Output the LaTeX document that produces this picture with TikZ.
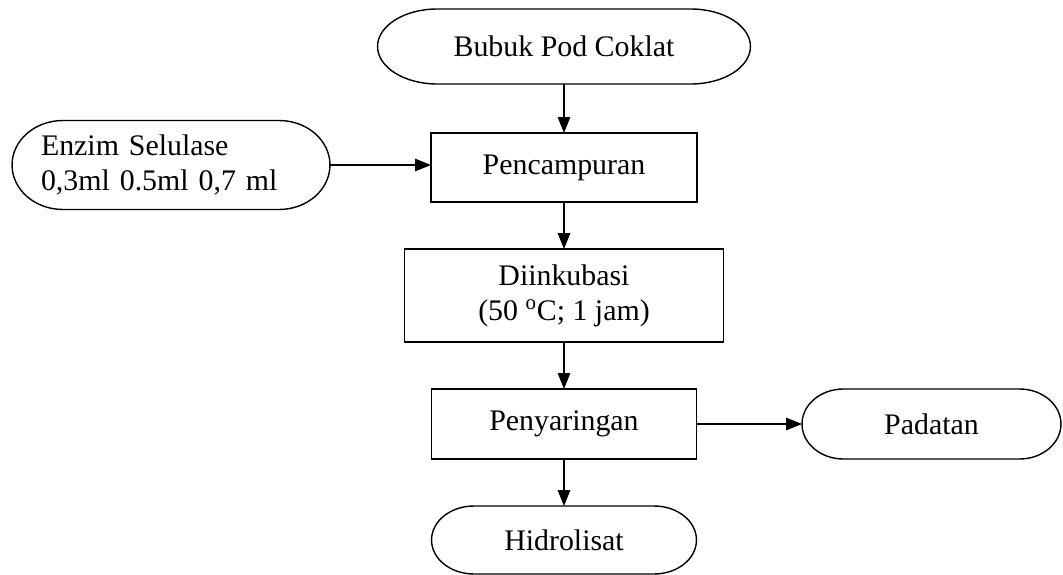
\documentclass[tikz,border=0pt]{standalone}
\usepackage{fontspec}
\setmainfont{Liberation Serif}
\usetikzlibrary{arrows.meta, calc}
\tikzset{
  % Box styles
  procbox/.style={rectangle, draw=black, line width=0.8pt, outer sep=0pt, font=\fontsize{17}{20}\selectfont, align=center},
  termbox/.style={rectangle, outer sep=0pt, font=\fontsize{17}{20}\selectfont, align=center},
  % Arrow styles
  flowarrow/.style={-{Triangle[length=3.2mm, width=2.5mm]}, line width=0.8pt}
}
% terminator outline with elliptic ends round a named node
\newcommand{\termborder}[1]{%
  \draw[line width=0.8pt] let \p1=(#1.north west), \p2=(#1.south east),
    \n1={0.16*(\x2-\x1)}, \n2={0.5*(\y1-\y2)} in
    (\x1+\n1,\y1) -- (\x2-\n1,\y1)
    arc[start angle=90, end angle=-90, x radius=\n1, y radius=\n2]
    -- (\x1+\n1,\y2)
    arc[start angle=270, end angle=90, x radius=\n1, y radius=\n2] -- cycle;}

\begin{document}
\begin{tikzpicture}[x=0.02cm, y=-0.02cm]
  \useasboundingbox (0,0) rectangle (1063,575);

  % Process steps
  \node[termbox, minimum width=7.46cm, minimum height=1.5cm] (bubuk) at (564,46.5) {Bubuk Pod Coklat};
  \node[procbox, minimum width=5.32cm, minimum height=1.38cm] (pencampuran) at (564,167.5) {Pencampuran};
  \node[termbox, minimum width=6.36cm, minimum height=1.78cm, text width=5.2cm, align=left] (enzim) at (171,165) {Enzim Selulase\\0,3ml 0.5ml 0,7 ml};
  \node[procbox, minimum width=6.38cm, minimum height=1.86cm] (inkubasi) at (564,295.5) {Diinkubasi\\(50 \textsuperscript{o}C; 1 jam)};
  \node[procbox, minimum width=5.3cm, minimum height=1.4cm] (penyaringan) at (564,424) {Penyaringan};
  \node[termbox, minimum width=5.18cm, minimum height=1.4cm] (padatan) at (931.5,424) {Padatan};
  \node[termbox, minimum width=5.3cm, minimum height=1.36cm] (hidrolisat) at (564,540) {Hidrolisat};

  \foreach \t in {bubuk,enzim,padatan,hidrolisat} {\termborder{\t}}

  % Arrows
  \draw[flowarrow] (bubuk) -- (pencampuran);
  \draw[flowarrow] (enzim.east) -- (enzim.east -| pencampuran.west);
  \draw[flowarrow] (pencampuran) -- (inkubasi);
  \draw[flowarrow] (inkubasi) -- (penyaringan);
  \draw[flowarrow] (penyaringan) -- (padatan);
  \draw[flowarrow] (penyaringan) -- (hidrolisat);
\end{tikzpicture}
\end{document}
